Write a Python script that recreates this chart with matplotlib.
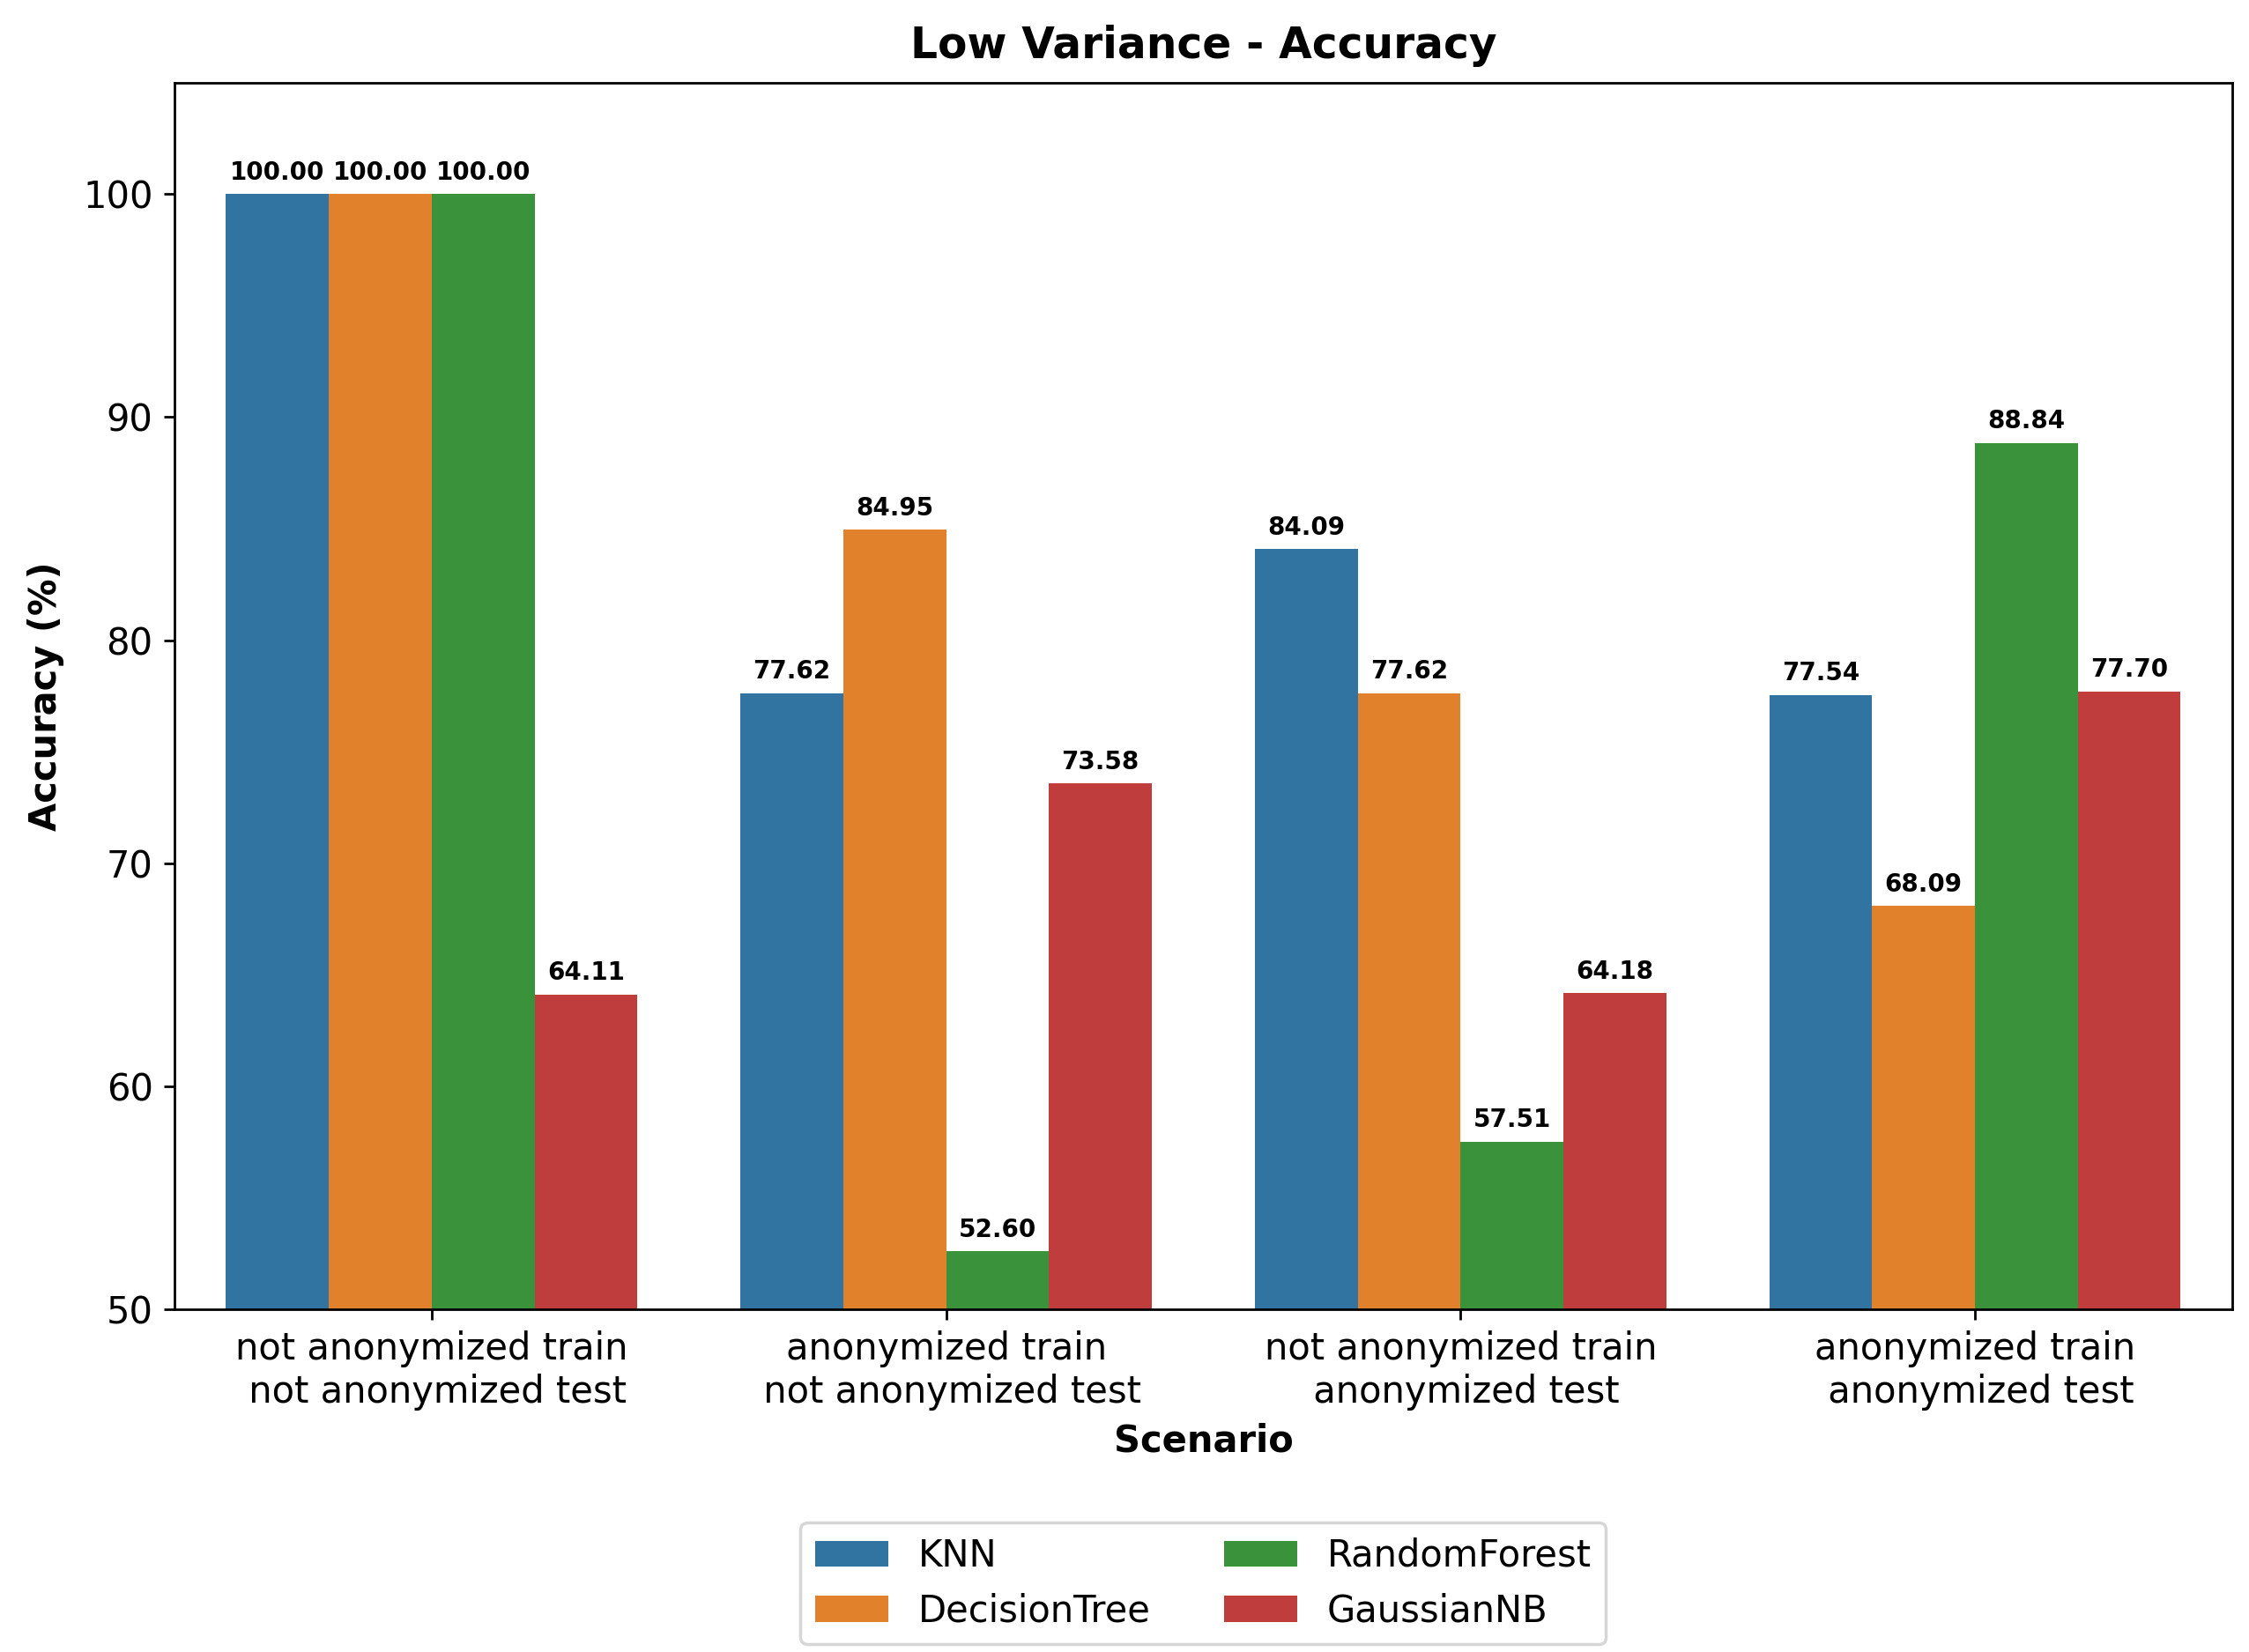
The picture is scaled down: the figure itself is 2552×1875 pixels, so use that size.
import numpy as np
import matplotlib.pyplot as plt

scenarios = ["not anonymized train\n not anonymized test",
             "anonymized train\n not anonymized test",
             "not anonymized train\n anonymized test",
             "anonymized train\n anonymized test"]
models = ["KNN", "DecisionTree", "RandomForest", "GaussianNB"]
knn = [100.00, 77.62, 84.09, 77.54]
decision_tree = [100.00, 84.95, 77.62, 68.09]
random_forest = [100.00, 52.60, 57.51, 88.84]
gaussian_nb = [64.11, 73.58, 64.18, 77.70]
colors = ["#3274a1", "#e1812c", "#3a923a", "#c03d3e"]

series = [knn, decision_tree, random_forest, gaussian_nb]

fig, ax = plt.subplots(figsize=(10.208, 7.5), dpi=250)
fig.subplots_adjust(left=0.0776, right=0.9925, top=0.950, bottom=0.2075)

x = np.arange(len(scenarios))
width = 0.2
for i, (name, vals) in enumerate(zip(models, series)):
    bars = ax.bar(x - 0.3 + i * width, vals, width, label=name, color=colors[i])
    ax.bar_label(bars, fmt="%.2f", padding=3, fontsize=8, fontweight="bold")

ax.set_xticks(x)
ax.set_xticklabels(scenarios, fontsize=12)
ax.tick_params(axis="y", labelsize=12)
ax.set_xlim(-0.5, 3.5)
ax.set_ylim(50, 105)
ax.set_title("Low Variance - Accuracy", fontsize=14, fontweight="bold", pad=8)
ax.set_xlabel("Scenario", fontsize=12, fontweight="bold")
ax.set_ylabel("Accuracy (%)", fontsize=12, fontweight="bold", labelpad=6)
ax.legend(loc="upper center", bbox_to_anchor=(0.5, -0.159), ncol=2, fontsize=12)

fig.savefig("out.png", dpi=250)
